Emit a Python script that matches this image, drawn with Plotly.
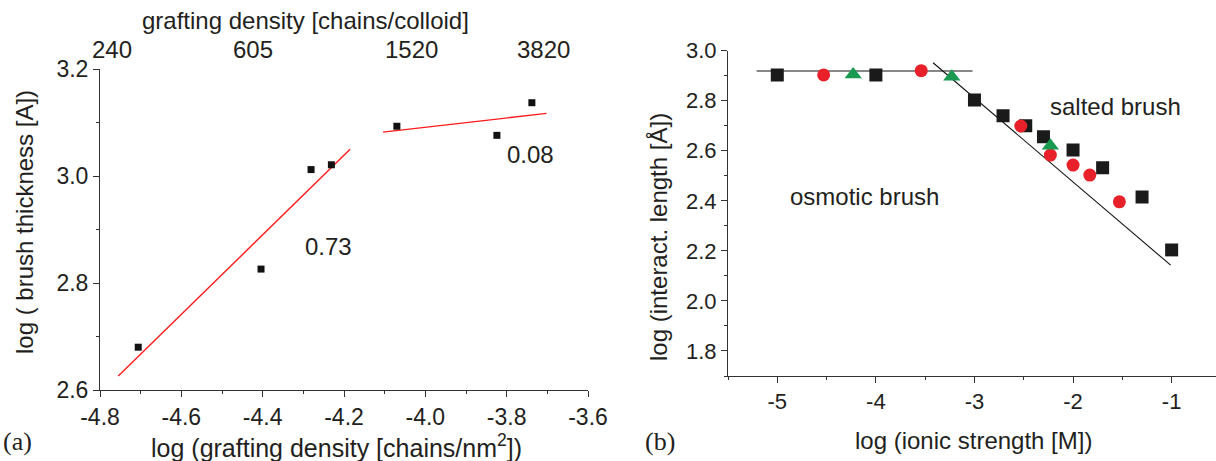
import plotly.graph_objects as go

W, H = 1216, 461

# ---------------- panel (a) data ----------------
a_x = [-4.706, -4.404, -4.281, -4.231, -4.070, -3.824, -3.738]
a_y = [2.680, 2.826, 3.012, 3.021, 3.093, 3.076, 3.137]
fit1_x = [-4.755, -4.185]
fit1_y = [2.626, 3.050]
fit2_x = [-4.104, -3.702]
fit2_y = [3.082, 3.117]
a_xticks = [-4.8, -4.6, -4.4, -4.2, -4.0, -3.8, -3.6]
a_xtext = ["-4.8", "-4.6", "-4.4", "-4.2", "-4.0", "-3.8", "-3.6"]
a_yticks = [2.6, 2.8, 3.0, 3.2]
a_ytext = ["2.6", "2.8", "3.0", "3.2"]
top_pos = [-4.770, -4.425, -4.035, -3.710]
top_text = ["240", "605", "1520", "3820"]

# ---------------- panel (b) data ----------------
sq_x = [-5.0, -4.0, -3.0, -2.71, -2.48, -2.30, -2.0, -1.70, -1.30, -1.0]
sq_y = [2.903, 2.903, 2.803, 2.740, 2.700, 2.656, 2.603, 2.532, 2.415, 2.204]
ci_x = [-4.53, -3.54, -2.53, -2.23, -2.0, -1.83, -1.53]
ci_y = [2.903, 2.920, 2.699, 2.583, 2.543, 2.503, 2.396]
tr_x = [-4.23, -3.23, -2.23]
tr_y = [2.905, 2.896, 2.620]
osm_x = [-5.21, -3.02]
osm_y = [2.919, 2.919]
salt_x = [-3.42, -1.01]
salt_y = [2.952, 2.143]
b_xticks = [-5, -4, -3, -2, -1]
b_xtext = ["-5", "-4", "-3", "-2", "-1"]
b_yticks = [1.8, 2.0, 2.2, 2.4, 2.6, 2.8, 3.0]
b_ytext = ["1.8", "2.0", "2.2", "2.4", "2.6", "2.8", "3.0"]

FONT = "Liberation Sans, Arial, sans-serif"
SERIF = "Liberation Serif, serif"
TXT = "#231f20"
AX = "#333333"

def px(x):
    return x / W

def py(y):
    return 1 - y / H

fig = go.Figure()

# panel (a)
fig.add_trace(go.Scatter(x=fit1_x, y=fit1_y, mode="lines", line=dict(color="#ff1a1a", width=1.4),
                         xaxis="x", yaxis="y", showlegend=False))
fig.add_trace(go.Scatter(x=fit2_x, y=fit2_y, mode="lines", line=dict(color="#ff1a1a", width=1.4),
                         xaxis="x", yaxis="y", showlegend=False))
fig.add_trace(go.Scatter(x=a_x, y=a_y, mode="markers",
                         marker=dict(symbol="square", size=7, color="#111111"),
                         xaxis="x", yaxis="y", showlegend=False))

# panel (b)
fig.add_trace(go.Scatter(x=osm_x, y=osm_y, mode="lines", line=dict(color="#111111", width=1.1),
                         xaxis="x4", yaxis="y4", showlegend=False))
fig.add_trace(go.Scatter(x=salt_x, y=salt_y, mode="lines", line=dict(color="#111111", width=1.1),
                         xaxis="x4", yaxis="y4", showlegend=False))
fig.add_trace(go.Scatter(x=sq_x, y=sq_y, mode="markers",
                         marker=dict(symbol="square", size=13, color="#1a1a1a"),
                         xaxis="x4", yaxis="y4", showlegend=False))
fig.add_trace(go.Scatter(x=ci_x, y=ci_y, mode="markers",
                         marker=dict(symbol="circle", size=13, color="#e8202a"),
                         xaxis="x4", yaxis="y4", showlegend=False))
fig.add_trace(go.Scatter(x=tr_x, y=tr_y, mode="markers",
                         marker=dict(symbol="triangle-up", size=15, color="#1a9a50"),
                         xaxis="x4", yaxis="y4", showlegend=False))

tickfont_a = dict(family=FONT, size=23, color=TXT)
tickfont_b = dict(family=FONT, size=22, color=TXT)
a_dom_x = [px(100), px(588)]
a_dom_y = [py(390), py(69)]
b_dom_x = [px(728), 1.0]
b_dom_y = [py(376), py(50.7)]

fig.update_layout(
    width=W, height=H,
    margin=dict(l=0, r=0, t=0, b=0, autoexpand=False),
    paper_bgcolor="white", plot_bgcolor="white",
    font=dict(family=FONT, color=TXT),
    xaxis=dict(domain=a_dom_x, anchor="y", range=[-4.8, -3.6],
               tickmode="array", tickvals=a_xticks, ticktext=a_xtext,
               ticks="outside", ticklen=6, tickcolor=AX, tickfont=tickfont_a,
               minor=dict(dtick=0.1, tick0=0, ticks="outside", ticklen=3, tickcolor=AX, showgrid=False),
               showline=True, linecolor=AX, linewidth=1, showgrid=False, zeroline=False),
    yaxis=dict(domain=a_dom_y, anchor="x", range=[2.6, 3.2],
               tickmode="array", tickvals=a_yticks, ticktext=a_ytext,
               ticks="outside", ticklen=6, tickcolor=AX, tickfont=tickfont_a,
               minor=dict(dtick=0.1, tick0=0, ticks="outside", ticklen=3, tickcolor=AX, showgrid=False),
               showline=True, linecolor=AX, linewidth=1, showgrid=False, zeroline=False),
    xaxis2=dict(overlaying="x", anchor="y", side="top", range=[-4.8, -3.6],
                tickmode="linear", tick0=-4.8, dtick=0.1, ticks="inside", ticklen=4, tickcolor=AX,
                showticklabels=False, showline=True, linecolor=AX, linewidth=1,
                showgrid=False, zeroline=False),
    yaxis2=dict(overlaying="y", anchor="x", side="right", range=[2.6, 3.2],
                tickmode="linear", tick0=2.6, dtick=0.1, ticks="inside", ticklen=4, tickcolor=AX,
                showticklabels=False, showline=True, linecolor=AX, linewidth=1,
                showgrid=False, zeroline=False),
    xaxis4=dict(domain=b_dom_x, anchor="y4", range=[-5.5, -0.55],
                tickmode="array", tickvals=b_xticks, ticktext=b_xtext,
                ticks="outside", ticklen=6, tickcolor=AX, tickfont=tickfont_b,
                minor=dict(dtick=0.5, tick0=0, ticks="outside", ticklen=3, tickcolor=AX, showgrid=False),
                showline=True, linecolor=AX, linewidth=1, showgrid=False, zeroline=False),
    yaxis4=dict(domain=b_dom_y, anchor="x4", range=[1.7, 3.0],
                tickmode="array", tickvals=b_yticks, ticktext=b_ytext,
                ticks="outside", ticklen=6, tickcolor=AX, tickfont=tickfont_b,
                minor=dict(dtick=0.1, tick0=0, ticks="outside", ticklen=3, tickcolor=AX, showgrid=False),
                showline=True, linecolor=AX, linewidth=1, showgrid=False, zeroline=False),
    xaxis5=dict(overlaying="x4", anchor="y4", side="top", range=[-5.5, -0.55],
                tickmode="linear", tick0=-5.5, dtick=0.5, ticks="inside", ticklen=3, tickcolor="#888888",
                showticklabels=False, showline=True, linecolor=AX, linewidth=1,
                showgrid=False, zeroline=False),
)

ann = []
def A(text, x, y, size=24, xref="paper", yref="paper", angle=0, family=FONT, **kw):
    ann.append(dict(text=text, x=x, y=y, xref=xref, yref=yref, showarrow=False,
                    textangle=angle, font=dict(family=family, size=size, color=TXT),
                    xanchor="center", yanchor="middle", **kw))

# top axis labels of panel (a) (chains per colloid)
for pos, lab in zip(top_pos, top_text):
    A(lab, pos, py(50), size=24, xref="x")

# panel (a) titles and labels
A("log (grafting density [chains/nm<sup>2</sup>])", px(336), py(446), size=25)
A("grafting density [chains/colloid]", px(305), py(20))
A("log ( brush thickness [A])", px(24), py(222), angle=-90, size=24)
A("(a)", px(17), py(441), size=26, family=SERIF)
A("0.73", -4.239, 2.869, xref="x", yref="y")
A("0.08", -3.742, 3.041, xref="x", yref="y")

# panel (b) titles and labels
A("log (ionic strength [M])", px(973), py(440))
A("log (interact. length [Å])", px(658), py(237), angle=-90)
A("(b)", px(660), py(441), size=26, family=SERIF)
A("salted brush", -1.566, 2.776, xref="x4", yref="y4")
A("osmotic brush", -4.113, 2.416, xref="x4", yref="y4")

fig.update_layout(annotations=ann)

fig.write_html("out.html")
